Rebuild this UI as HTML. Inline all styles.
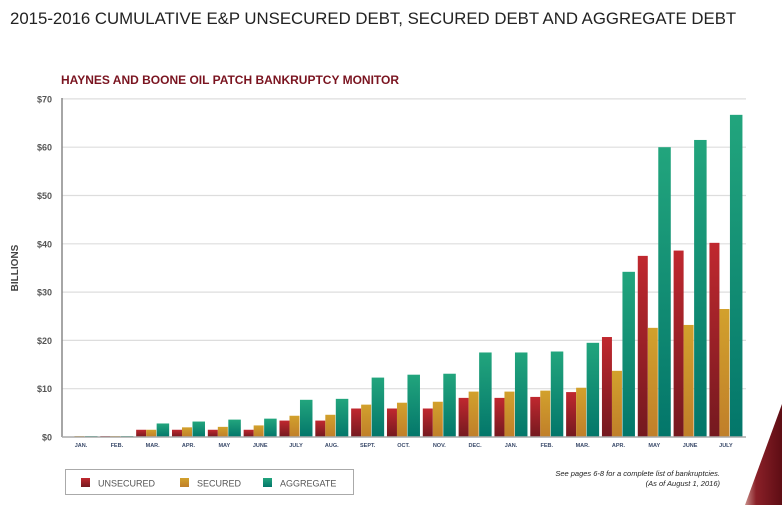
<!DOCTYPE html>
<html><head><meta charset="utf-8"><style>
body{margin:0;background:#fff;}
svg{display:block;font-family:"Liberation Sans",Arial,sans-serif;}
</style></head><body>
<svg id="s" width="782" height="505" viewBox="0 0 782 505" xmlns="http://www.w3.org/2000/svg">
<defs>
<linearGradient id="gr" x1="0" y1="0" x2="0" y2="1"><stop offset="0" stop-color="#c0282f"/><stop offset="1" stop-color="#74191f"/></linearGradient>
<linearGradient id="gy" x1="0" y1="0" x2="0" y2="1"><stop offset="0" stop-color="#d2a12c"/><stop offset="1" stop-color="#c07f2a"/></linearGradient>
<linearGradient id="gg" x1="0" y1="0" x2="0" y2="1"><stop offset="0" stop-color="#22a57d"/><stop offset="1" stop-color="#03766a"/></linearGradient>
<linearGradient id="tri" x1="0" y1="0" x2="1" y2="0"><stop offset="0" stop-color="#c9908a"/><stop offset="0.3" stop-color="#8a2028"/><stop offset="1" stop-color="#5e0d14"/></linearGradient>
</defs>
<text x="10" y="24" font-size="16.8" fill="#222">2015-2016 CUMULATIVE E&amp;P UNSECURED DEBT, SECURED DEBT AND AGGREGATE DEBT</text>
<text x="61" y="84" font-size="12" font-weight="bold" fill="#7a1420">HAYNES AND BOONE OIL PATCH BANKRUPTCY MONITOR</text>
<g id="grid"></g>
<g id="bars"></g>
<line x1="62" y1="98" x2="62" y2="437" stroke="#888" stroke-width="1.5"/>
<line x1="62" y1="437" x2="746" y2="437" stroke="#aaa" stroke-width="1.5"/>
<text transform="translate(18,268) rotate(-90)" text-anchor="middle" font-size="10" font-weight="bold" fill="#444">BILLIONS</text>
<rect x="65.5" y="469.5" width="288" height="25" fill="#fff" stroke="#aaa"/>
<rect x="81" y="478" width="9" height="9" fill="url(#gr)"/><text x="98" y="486.5" font-size="9" fill="#555">UNSECURED</text>
<rect x="180" y="478" width="9" height="9" fill="url(#gy)"/><text x="197" y="486.5" font-size="9" fill="#555">SECURED</text>
<rect x="263" y="478" width="9" height="9" fill="url(#gg)"/><text x="280" y="486.5" font-size="9" fill="#555">AGGREGATE</text>
<text x="720" y="476" text-anchor="end" font-size="7.5" font-style="italic" fill="#222">See pages 6-8 for a complete list of bankruptcies.</text>
<text x="720" y="486" text-anchor="end" font-size="7.5" font-style="italic" fill="#222">(As of August 1, 2016)</text>
<polygon points="782,404 782,505 745,505" fill="url(#tri)"/>
</svg>
<script>
var ns="http://www.w3.org/2000/svg";
function el(p,t,a,txt){var e=document.createElementNS(ns,t);for(var k in a)e.setAttribute(k,a[k]);if(txt)e.textContent=txt;p.appendChild(e);return e;}
var g=document.getElementById('grid'),b=document.getElementById('bars');
var y0=437,k=4.83;
for(var i=0;i<=7;i++){var y=y0-i*10*k;if(i>0)el(g,'line',{x1:62,x2:746,y1:y,y2:y,stroke:'#ddd','stroke-width':1.2});
el(g,'text',{x:52,y:y+3.5,'text-anchor':'end','font-size':9,'font-weight':'bold',fill:'#555'},'$'+i*10);}
var m=['JAN.','FEB.','MAR.','APR.','MAY','JUNE','JULY','AUG.','SEPT.','OCT.','NOV.','DEC.','JAN.','FEB.','MAR.','APR.','MAY','JUNE','JULY'];
var d=[[0,.2,.2],[.2,.2,.2],[1.5,1.5,2.8],[1.5,2,3.2],[1.5,2.1,3.6],[1.5,2.4,3.8],[3.4,4.4,7.7],[3.4,4.6,7.9],[5.9,6.7,12.3],[5.9,7.1,12.9],[5.9,7.3,13.1],[8.1,9.4,17.5],[8.1,9.4,17.5],[8.3,9.6,17.7],[9.3,10.2,19.5],[20.7,13.7,34.2],[37.5,22.6,60],[38.6,23.2,61.5],[40.2,26.5,66.7]];
var f=['url(#gr)','url(#gy)','url(#gg)'];
for(var j=0;j<19;j++){var s=64.5+j*35.83;var xs=[s,s+10,s+20.5],ws=[10,10,12.5];
for(var q=0;q<3;q++){var h=d[j][q]*k;if(h>0)el(b,'rect',{x:xs[q],y:y0-h,width:ws[q],height:h,fill:f[q]});}
el(b,'text',{x:s+16.5,y:447,'text-anchor':'middle','font-size':5.5,'font-weight':'bold',fill:'#3a4a6a'},m[j]);}
</script>
</body></html>
